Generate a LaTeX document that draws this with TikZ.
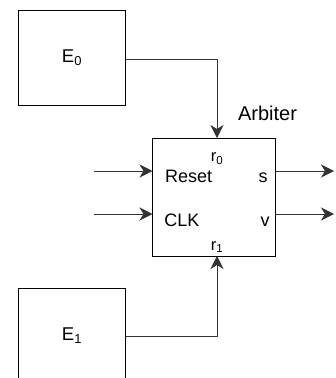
\documentclass[tikz,border=0pt]{standalone}
\usepackage{fontspec}
\setmainfont{Liberation Sans}
\usetikzlibrary{arrows.meta}
\begin{document}
\begin{tikzpicture}[x=1pt,y=-1pt,
  box/.style={draw=black,line width=0.9pt,minimum width=107pt,minimum height=95pt,inner sep=0pt,outer sep=0pt},
  arb/.style={draw=black,line width=0.9pt,minimum width=123pt,minimum height=118pt,inner sep=0pt,outer sep=0pt},
  wire/.style={draw=black!80,line width=0.9pt},
  arr/.style={wire,-{Stealth[length=13pt,width=13pt,inset=4pt]}},
  lbl/.style={inner sep=0pt,anchor=base,font=\fontsize{18}{20}\selectfont},
  sml/.style={inner sep=0pt,anchor=base,font=\fontsize{16.5}{18}\selectfont}]
\useasboundingbox (0,0) rectangle (336,378);
\clip (0,0) rectangle (336,378);
\fill[white] (0,0) rectangle (336,378);
\node[box] (E0) at (72,57.5) {};
\node[box] (E1) at (72,335.5) {};
\node[arb] (A) at (214,197) {};
\node[inner sep=0pt,font=\fontsize{18.5}{20}\selectfont] (e0t) at (72,57.5) {E\textsubscript{0}};
\node[inner sep=0pt,font=\fontsize{18.5}{20}\selectfont] (e1t) at (72,335.5) {E\textsubscript{1}};
\node[lbl,font=\fontsize{20}{22}\selectfont] (arbt) at (267.5,120.5) {Arbiter};
\node[sml] (r0) at (217,161.5) {r\textsubscript{0}};
\node[sml] (r1) at (217,250) {r\textsubscript{1}};
\node[lbl] (reset) at (188.7,182) {Reset};
\node[lbl] (clk) at (182,226.5) {CLK};
\node[lbl] (s) at (263,182) {s};
\node[lbl] (v) at (265,226.5) {v};
\coordinate (inR) at (94,171);
\coordinate (inC) at (94,214);
\coordinate (outS) at (334,171);
\coordinate (outV) at (334,214);
\draw[arr] (E0.east |- 0,59) -| (A.north -| 217,0);
\draw[arr] (E1.east |- 0,336) -| (A.south -| 217,0);
\draw[arr] (inR) -- (A.west |- inR);
\draw[arr] (inC) -- (A.west |- inC);
\draw[arr] (A.east |- outS) -- (outS);
\draw[arr] (A.east |- outV) -- (outV);
\end{tikzpicture}
\end{document}
